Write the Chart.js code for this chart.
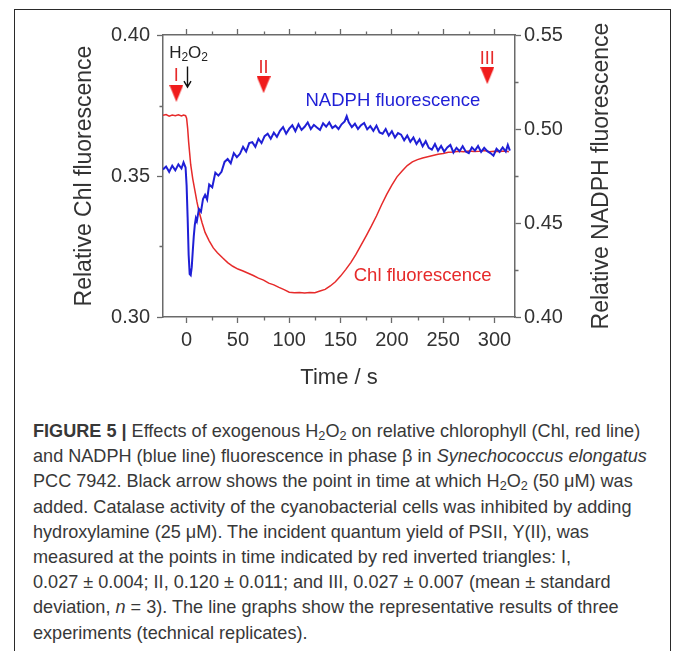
<!DOCTYPE html>
<html><head><meta charset="utf-8">
<script src="https://cdn.jsdelivr.net/npm/chart.js@4.4.0/dist/chart.umd.min.js"></script>
<style>
html,body{margin:0;padding:0;background:#fff;width:673px;height:651px;overflow:hidden;}
#frame{position:absolute;left:14px;top:9px;width:657px;height:700px;border:1px solid #2a2a2a;border-bottom:none;box-sizing:border-box;}
#wrap{position:absolute;left:0;top:0;width:673px;height:400px;}
#cap{position:absolute;left:33px;top:419px;font-family:'Liberation Sans',Arial,sans-serif;font-size:18.1px;line-height:25.2px;color:#383838;white-space:nowrap;}
#cap sub{font-size:70%;vertical-align:-3px;line-height:0;}
</style></head>
<body>
<div id="frame"></div>
<div id="wrap"><canvas id="c" width="673" height="400"></canvas></div>
<div id="cap"><b>FIGURE 5 |</b> Effects of exogenous H<sub>2</sub>O<sub>2</sub> on relative chlorophyll (Chl, red line)<br>and NADPH (blue line) fluorescence in phase β in <i>Synechococcus elongatus</i><br>PCC 7942. Black arrow shows the point in time at which H<sub>2</sub>O<sub>2</sub> (50 μM) was<br>added. Catalase activity of the cyanobacterial cells was inhibited by adding<br>hydroxylamine (25 μM). The incident quantum yield of PSII, Y(II), was<br>measured at the points in time indicated by red inverted triangles: I,<br>0.027 ± 0.004; II, 0.120 ± 0.011; and III, 0.027 ± 0.007 (mean ± standard<br>deviation, <i>n</i> = 3). The line graphs show the representative results of three<br>experiments (technical replicates).</div>
<script>
// ---- data ----
const TIME_TICKS = [0, 50, 100, 150, 200, 250, 300];
const TIME_MINOR = [25, 75, 125, 175, 225, 275];
const CHL_TICKS = [0.30, 0.35, 0.40];
const CHL_MINOR = [0.325, 0.375];
const NADPH_TICKS = [0.40, 0.45, 0.50, 0.55];
const NADPH_MINOR = [0.425, 0.475, 0.525];

const CHL_T = [-23,-20,-17,-14,-11,-8,-5,-3,-1,0,1,2,3,4,6,8,10,12,15,18,22,26,30,35,40,45,50,55,60,65,70,75,80,85,90,95,100,105,110,115,120,125,130,135,140,145,150,155,160,165,170,175,180,185,190,195,200,205,210,215,220,225,230,237,245,250,255,260,265,270,275,280,285,290,295,300,305,310,314];
const CHL_V = [0.3715,0.3718,0.3712,0.3716,0.3714,0.3717,0.3713,0.3716,0.3714,0.3705,0.3670,0.3620,0.3580,0.3540,0.3490,0.3450,0.3410,0.3375,0.3335,0.3300,0.3270,0.3245,0.3228,0.3210,0.3193,0.3180,0.3170,0.3163,0.3155,0.3147,0.3138,0.3131,0.3120,0.3114,0.3105,0.3097,0.3088,0.3086,0.3087,0.3085,0.3087,0.3086,0.3092,0.3098,0.3110,0.3125,0.3145,0.3168,0.3193,0.3222,0.3255,0.3288,0.3322,0.3358,0.3398,0.3435,0.3468,0.3497,0.3518,0.3537,0.3550,0.3558,0.3564,0.3570,0.3577,0.3580,0.3584,0.3585,0.3588,0.3586,0.3589,0.3587,0.3588,0.3590,0.3586,0.3588,0.3587,0.3589,0.3586];

const NADPH_T = [-23,-20,-17,-14,-11,-8,-5,-3,-1,0,1,2,3,4,5,6,7,8,9,10,12,14,16,18,20,22,25,28,31,34,37,40,43,46,49,52,55,58,61,64,67,70,73,76,79,82,85,88,91,94,97,100,103,106,109,112,115,118,121,124,127,130,133,136,139,142,145,148,151,154,156,158,161,164,167,170,173,176,179,182,185,188,191,194,197,200,203,206,209,212,215,218,221,224,227,230,233,236,239,242,245,248,251,254,257,260,263,266,269,272,275,278,281,284,287,290,293,296,299,302,305,308,311,313,315];
const NADPH_V = [0.4785,0.4800,0.4772,0.4805,0.4780,0.4812,0.4790,0.4822,0.4795,0.4700,0.4530,0.4330,0.4228,0.4222,0.4265,0.4350,0.4430,0.4490,0.4525,0.4510,0.4575,0.4560,0.4628,0.4650,0.4625,0.4705,0.4690,0.4768,0.4752,0.4772,0.4825,0.4840,0.4818,0.4872,0.4850,0.4868,0.4905,0.4880,0.4925,0.4930,0.4905,0.4948,0.4925,0.4962,0.4975,0.4948,0.4980,0.4958,0.4990,0.5010,0.4975,0.5002,0.5020,0.4988,0.5025,0.4995,0.5012,0.5035,0.5000,0.5022,0.5008,0.4995,0.5030,0.5012,0.5035,0.5005,0.5018,0.5000,0.5025,0.5040,0.5068,0.5035,0.5010,0.5028,0.5000,0.5020,0.5032,0.4998,0.5015,0.4990,0.5018,0.4982,0.4975,0.5000,0.4965,0.4988,0.4955,0.4978,0.4970,0.4940,0.4965,0.4932,0.4955,0.4920,0.4945,0.4908,0.4935,0.4900,0.4890,0.4920,0.4885,0.4910,0.4880,0.4902,0.4915,0.4875,0.4900,0.4882,0.4908,0.4880,0.4872,0.4902,0.4885,0.4910,0.4878,0.4900,0.4882,0.4872,0.4858,0.4895,0.4878,0.4902,0.4880,0.4915,0.4885];

const MARK_LABELS = ['I', 'II', 'III'];
const MARK_T = [-10, 75, 293];
const MARK_V = [0.3793, 0.3824, 0.3856];

const ADD_T = 0;          // H2O2 addition time
const ADD_V = [0.3888, 0.3815];  // arrow from / to (left axis units)
const H2O2_POS = [-17, 0.3936];
const NADPH_LABEL = ['NADPH fluorescence', 201, 0.5149];
const CHL_LABEL = ['Chl fluorescence', 230, 0.3145];

// ---- styles ----
const RED = '#e62a2a', BLUE = '#1f1fd6', AXIS = '#6a6a6a', TXT = '#333';
const FONT = "'Liberation Sans', Arial, sans-serif";

const tri = document.createElement('canvas');
tri.width = 14; tri.height = 17;
{ const g = tri.getContext('2d'); g.fillStyle = '#f01c1c'; g.beginPath(); g.moveTo(0,0); g.lineTo(14,0); g.lineTo(7,17); g.closePath(); g.fill(); }

function setTicks(arr){ return s => { s.ticks = arr.map(v => ({value: v})); }; }

const decor = {
  id: 'decor',
  afterDraw(chart){
    const ctx = chart.ctx, x = chart.scales.x, y = chart.scales.y, y2 = chart.scales.y2, ca = chart.chartArea;
    ctx.save();
    ctx.strokeStyle = AXIS; ctx.lineWidth = 1.3;
    ctx.beginPath();
    TIME_MINOR.forEach(v => { const px = Math.round(x.getPixelForValue(v)) + 0.5;
      ctx.moveTo(px, ca.bottom); ctx.lineTo(px, ca.bottom + 3.5);
      ctx.moveTo(px, ca.top); ctx.lineTo(px, ca.top - 3.5); });
    CHL_MINOR.forEach(v => { const py = Math.round(y.getPixelForValue(v)) + 0.5;
      ctx.moveTo(ca.left, py); ctx.lineTo(ca.left - 3.5, py); });
    NADPH_MINOR.forEach(v => { const py = Math.round(y2.getPixelForValue(v)) + 0.5;
      ctx.moveTo(ca.right, py); ctx.lineTo(ca.right + 3.5, py); });
    ctx.stroke();

    // roman labels above triangles
    ctx.fillStyle = RED; ctx.font = "18px " + FONT; ctx.textAlign = 'center'; ctx.textBaseline = 'bottom';
    MARK_LABELS.forEach((l, i) => {
      ctx.fillText(l, x.getPixelForValue(MARK_T[i]), y.getPixelForValue(MARK_V[i]) - 8);
    });

    // series labels
    ctx.textBaseline = 'middle';
    ctx.font = "18.5px " + FONT;
    ctx.fillStyle = BLUE;
    ctx.fillText(NADPH_LABEL[0], x.getPixelForValue(NADPH_LABEL[1]), y2.getPixelForValue(NADPH_LABEL[2]));
    ctx.fillStyle = RED;
    ctx.fillText(CHL_LABEL[0], x.getPixelForValue(CHL_LABEL[1]), y.getPixelForValue(CHL_LABEL[2]));

    // H2O2 label
    ctx.fillStyle = '#222'; ctx.textAlign = 'left';
    let hx = x.getPixelForValue(H2O2_POS[0]), hy = y.getPixelForValue(H2O2_POS[1]);
    const big = "17px " + FONT, small = "12px " + FONT;
    const parts = [['H', big, 0], ['2', small, 5], ['O', big, 0], ['2', small, 5]];
    parts.forEach(p => { ctx.font = p[1]; ctx.fillText(p[0], hx, hy + p[2]); hx += ctx.measureText(p[0]).width; });

    // black arrow
    const ax = Math.round(x.getPixelForValue(ADD_T)) + 0.5, a0 = y.getPixelForValue(ADD_V[0]), a1 = y.getPixelForValue(ADD_V[1]);
    ctx.strokeStyle = '#111'; ctx.lineWidth = 1.4;
    ctx.beginPath(); ctx.moveTo(ax, a0); ctx.lineTo(ax, a1);
    ctx.moveTo(ax - 3.5, a1 - 6); ctx.lineTo(ax, a1); ctx.lineTo(ax + 3.5, a1 - 6);
    ctx.stroke();

    // right axis title (reads bottom to top)
    ctx.save();
    ctx.translate(602, (ca.top + ca.bottom) / 2);
    ctx.rotate(-Math.PI / 2);
    ctx.font = "23px " + FONT; ctx.fillStyle = TXT; ctx.textAlign = 'center'; ctx.textBaseline = 'middle';
    ctx.fillText('Relative NADPH fluorescence', 0, 0);
    ctx.restore();
    ctx.restore();
  }
};

const tickFont = {family: FONT, size: 20};
new Chart(document.getElementById('c'), {
  data: {
    datasets: [
      {type: 'scatter', data: MARK_T.map((t, i) => ({x: t, y: MARK_V[i]})), yAxisID: 'y', pointStyle: tri, pointRadius: 8, pointHoverRadius: 8},
      {type: 'line', data: NADPH_T.map((t, i) => ({x: t, y: NADPH_V[i]})), yAxisID: 'y2', borderColor: BLUE, borderWidth: 2, pointRadius: 0, tension: 0},
      {type: 'line', data: CHL_T.map((t, i) => ({x: t, y: CHL_V[i]})), yAxisID: 'y', borderColor: RED, borderWidth: 1.5, pointRadius: 0, tension: 0}
    ]
  },
  options: {
    responsive: false, animation: false, devicePixelRatio: 1,
    layout: {padding: 0},
    plugins: {legend: {display: false}, tooltip: {enabled: false}},
    scales: {
      x: {type: 'linear', position: 'bottom', min: -23, max: 320,
        afterBuildTicks: setTicks(TIME_TICKS), afterFit: s => { s.height = 83; },
        grid: {drawOnChartArea: false, tickLength: 6, tickColor: AXIS, tickWidth: 1.3},
        border: {color: AXIS, width: 1.5},
        ticks: {font: tickFont, color: TXT, padding: 5, maxRotation: 0, callback: v => String(v)},
        title: {display: true, text: 'Time / s', font: {family: FONT, size: 22}, color: TXT, padding: {top: 0, bottom: 9}}},
      x2: {type: 'linear', position: 'top', min: -23, max: 320,
        afterBuildTicks: setTicks(TIME_TICKS), afterFit: s => { s.height = 35; },
        grid: {drawOnChartArea: false, tickLength: 6, tickColor: AXIS, tickWidth: 1.3},
        border: {color: AXIS, width: 1.5},
        ticks: {display: true, callback: () => '', padding: 0}},
      y: {type: 'linear', position: 'left', min: 0.30, max: 0.40,
        afterBuildTicks: setTicks(CHL_TICKS), afterFit: s => { s.width = 163; },
        grid: {drawOnChartArea: false, tickLength: 6, tickColor: AXIS, tickWidth: 1.3},
        border: {color: AXIS, width: 1.5},
        ticks: {font: tickFont, color: TXT, padding: 7, callback: v => v.toFixed(2)},
        title: {display: true, text: 'Relative Chl fluorescence', font: {family: FONT, size: 23}, color: TXT, padding: {top: 71, bottom: 0}}},
      y2: {type: 'linear', position: 'right', min: 0.40, max: 0.55,
        afterBuildTicks: setTicks(NADPH_TICKS), afterFit: s => { s.width = 158; },
        grid: {drawOnChartArea: false, tickLength: 6, tickColor: AXIS, tickWidth: 1.3},
        border: {color: AXIS, width: 1.5},
        ticks: {font: tickFont, color: TXT, padding: 3, callback: v => v.toFixed(2)}}
    }
  },
  plugins: [decor]
});
</script>
</body></html>
